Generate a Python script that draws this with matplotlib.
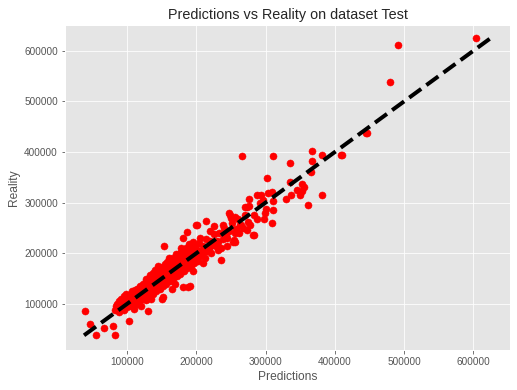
import matplotlib
matplotlib.use("Agg")
from matplotlib import pyplot as plt

plt.style.use("ggplot")
plt.rcParams["font.family"] = ["Liberation Sans", "DejaVu Sans"]

# predictions / reality, in thousands
pred = [39, 46, 55, 67, 80, 83, 103, 130, 150, 153, 165, 181, 188, 236,
        200, 226, 238, 247, 254, 276, 283, 298, 309, 311,
        266, 311, 367, 381, 410, 335, 367, 365, 445, 302, 335, 352, 355,
        345, 352, 337, 350, 329, 381, 361, 293, 303, 309, 311, 276, 296,
        273, 301, 299, 283, 277, 491, 604, 480, 446, 409, 253, 273, 249,
        256, 270, 214, 187,
        82, 84, 86, 87, 88, 89, 90, 91, 92, 93, 94, 95, 96, 97, 98, 99,
        100, 101, 102, 103, 104, 105, 106, 107, 108, 109, 110, 110, 111,
        112, 113, 114, 115, 116, 117, 118, 119, 120, 121, 122, 123, 124,
        125, 126, 127, 128, 129, 130, 131, 132, 133, 134, 135, 136, 137,
        138, 139, 140, 141, 142, 143, 144, 145, 146, 147, 148, 149, 150,
        151, 152, 153, 154, 155, 156, 157, 158, 159, 160, 161, 162, 163,
        164, 165, 166, 167, 168, 169, 170, 171, 172, 173, 174, 175, 176,
        177, 178, 179, 180, 181, 182, 183, 184, 185, 186, 187, 188, 189,
        190, 191, 192, 193, 194, 195, 196, 197, 198, 199, 200, 201, 202,
        204, 206, 208, 210, 212, 214, 216, 218, 220, 222, 225, 228, 230,
        233, 236, 240, 244, 248, 252, 256, 260, 265, 270, 275,
        105, 112, 118, 124, 128, 133, 137, 141, 146, 150, 155, 158, 162,
        166, 171, 176, 180, 185, 190, 195, 118, 122, 127, 131, 136, 139,
        143, 148, 152, 157, 161, 164, 169, 174, 178, 183, 94, 99, 108,
        114, 121, 126, 134, 145, 149, 159, 168, 172, 186, 192, 198, 205,
        211, 219, 224, 231, 238, 243, 258, 263, 268, 287, 292,
        201, 205, 181, 231, 191, 152, 282, 256, 288,
        120, 135, 145, 160, 170, 178, 195, 210, 220, 245, 250, 262]
real = [86, 60, 38, 52, 57, 39, 66, 86, 110, 215, 130, 133, 133, 187,
        256, 254, 256, 280, 227, 294, 236, 268, 260, 286,
        393, 393, 402, 394, 394, 379, 383, 361, 438, 349, 341, 337, 331,
        325, 323, 315, 315, 307, 315, 296, 315, 320, 322, 304, 307, 305,
        292, 288, 280, 276, 256, 612, 626, 539, 438, 394, 223, 246, 276,
        272, 292, 264, 242,
        88, 95, 100, 92, 105, 84, 97, 110, 90, 102, 96, 115, 88, 107, 99,
        120, 93, 104, 112, 98, 118, 108, 95, 125, 113, 102, 120, 90, 128,
        108, 117, 100, 130, 112, 122, 105, 135, 118, 110, 127, 140, 115,
        123, 132, 108, 145, 120, 128, 138, 115, 150, 125, 133, 142, 120,
        155, 130, 137, 147, 125, 160, 135, 142, 152, 130, 165, 140, 147,
        157, 135, 170, 145, 152, 162, 140, 175, 150, 157, 167, 145, 180,
        155, 162, 172, 150, 185, 160, 167, 177, 155, 190, 165, 172, 182,
        160, 195, 170, 177, 187, 165, 200, 175, 182, 192, 170, 205, 180,
        187, 197, 175, 210, 185, 192, 202, 180, 215, 190, 197, 207, 185,
        220, 195, 205, 215, 190, 228, 205, 212, 225, 200, 238, 215, 225,
        240, 210, 250, 230, 245, 260, 240, 268, 255, 275, 262,
        112, 125, 132, 138, 150, 158, 162, 168, 170, 172, 178, 182, 188,
        190, 198, 200, 205, 210, 218, 222, 112, 118, 115, 124, 128, 132,
        136, 140, 146, 150, 152, 158, 162, 165, 170, 176, 104, 108, 100,
        106, 113, 119, 129, 139, 143, 151, 160, 164, 178, 184, 190, 198,
        202, 210, 216, 222, 228, 236, 248, 255, 250, 268, 300,
        256, 230, 230, 207, 136, 114, 236, 223, 315,
        95, 110, 175, 190, 140, 210, 165, 180, 245, 215, 270, 240]

pred = [p * 1000 for p in pred]
real = [r * 1000 for r in real]

fig = plt.figure(figsize=(517 / 72, 390 / 72), dpi=72)
ax = fig.add_axes([65 / 517, 40 / 390, 445 / 517, 325 / 390])
ax.scatter(pred, real, s=50, color="red", zorder=3)
ax.plot([min(real), max(real)], [min(real), max(real)], "k--", lw=4, zorder=4)
ax.set_xlim(10500, 653000)
ax.set_ylim(9000, 651000)
ax.set_title("Predictions vs Reality on dataset Test", color="#262626")
ax.set_xlabel("Predictions")
ax.set_ylabel("Reality")
fig.savefig("out.png", dpi=72)
